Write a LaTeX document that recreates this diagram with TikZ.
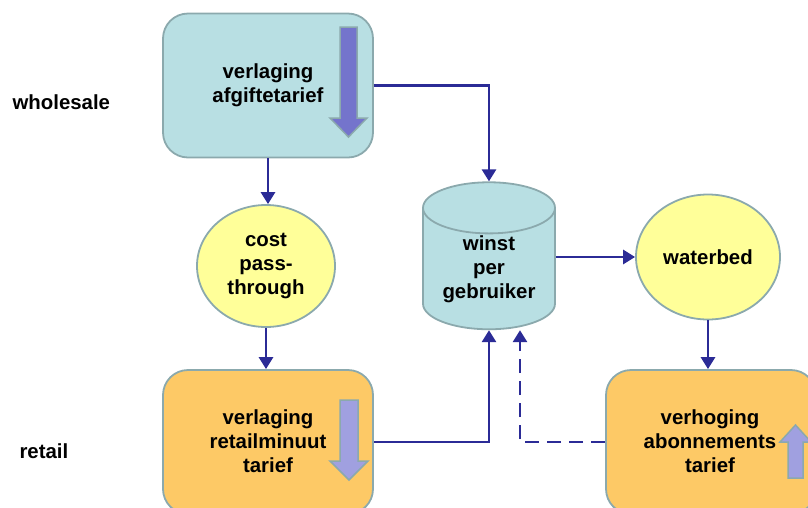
\documentclass[tikz,border=0pt]{standalone}
\usepackage{fontspec}
\setmainfont{Liberation Sans}
\usepackage{tikz}
\usetikzlibrary{shapes.geometric,arrows.meta}

\definecolor{boxblue}{HTML}{B8DFE3}
\definecolor{boxline}{HTML}{8BA9AD}
\definecolor{boxyellow}{HTML}{FFFF99}
\definecolor{boxorange}{HTML}{FDC966}
\definecolor{flowblue}{HTML}{2B2B96}
\definecolor{pijldark}{HTML}{7474CC}
\definecolor{pijllight}{HTML}{A0A0E0}

\tikzset{
	txt/.style={font=\fontsize{20.4}{24}\selectfont\bfseries, align=center},
	blok/.style={txt, rectangle, rounded corners=25pt, draw=boxline, line width=1.8pt,
		minimum width=210pt, minimum height=144pt, inner sep=0pt},
	rondje/.style={txt, ellipse, draw=boxline, line width=1.8pt, fill=boxyellow, inner sep=0pt},
	flow/.style={draw=flowblue, line width=2.8pt, -{Triangle[width=14pt,length=12pt]}},
	pijl/.style={draw=boxline, line width=1.5pt}
}

\begin{document}
\begin{tikzpicture}[x=1pt, y=-1pt]
	\clip (0,0) rectangle (808,507);
	
	\node[blok, fill=boxblue] (afgifte) at (268, 85.5) {};
	\node[blok, fill=boxorange] (retailmin) at (268, 442) {};
	\node[blok, fill=boxorange] (abonnement) at (711, 442) {};
	
	% pijlen in de blokken
	\draw[pijl, fill=pijldark] (340,27) -- (357,27) -- (357,118) -- (367,118) -- (348.5,137) -- (330,118) -- (340,118) -- cycle;
	\draw[pijl, fill=pijllight] (340,400) -- (358,400) -- (358,461) -- (368,461) -- (349,480) -- (330,461) -- (340,461) -- cycle;
	\draw[pijl, fill=pijllight] (788,478) -- (803,478) -- (803,442) -- (811,442) -- (795.5,425) -- (780,442) -- (788,442) -- cycle;
	
	\node[txt] (afgiftetxt) at (268, 85.5) {verlaging\\afgiftetarief};
	\node[txt] (retailmintxt) at (268, 441) {verlaging\\retailminuut\\tarief};
	\node[txt] (abonnementtxt) at (710, 441) {verhoging\\abonnements\\tarief};
	
	\node[rondje, minimum width=138pt, minimum height=122pt] (cost) at (266, 266) {cost\\pass-\\through};
	\node[rondje, minimum width=144pt, minimum height=125pt] (waterbed) at (708, 257) {waterbed};
	\node[txt, cylinder, shape border rotate=90, aspect=0.55, draw=boxline, line width=1.8pt,
		fill=boxblue, minimum width=132pt, minimum height=147pt, inner sep=0pt] (winst) at (489, 269) {winst\\per\\gebruiker};
	
	\node[txt, anchor=west] (wholesale) at (9, 102) {wholesale};
	\node[txt, anchor=west] (retail) at (16, 451) {retail};
	
	\coordinate (dashend) at ([xshift=31pt]winst.south);
	
	\path[flow] (afgifte.south) -- (afgifte.south |- cost.north);
	\path[flow] (cost.south) -- (cost.south |- retailmin.north);
	\path[flow] (afgifte.east) -| (winst.north);
	\path[flow] (retailmin.east) -| (winst.south);
	\path[flow] (waterbed.west -| winst.east) -- (waterbed.west);
	\path[flow] (waterbed.south) -- (waterbed.south |- abonnement.north);
	\path[flow, dash pattern=on 14pt off 8pt] (abonnement.west) -| (dashend);

\end{tikzpicture}
\end{document}
